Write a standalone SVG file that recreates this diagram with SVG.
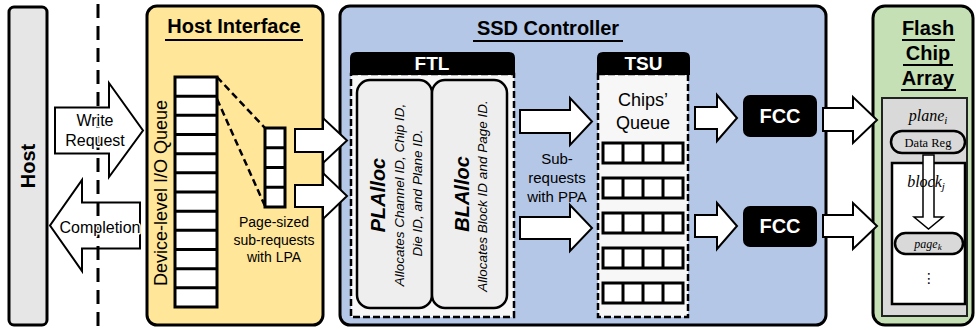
<svg xmlns="http://www.w3.org/2000/svg" width="976" height="330" viewBox="0 0 976 330">
<style>
text{font-family:"Liberation Sans",Arial,sans-serif;fill:#000}
.t{font-weight:bold;font-size:20px;text-anchor:middle}
.hd{font-weight:bold;font-size:19px;text-anchor:middle;fill:#fff}
.lbl{font-size:16px;text-anchor:middle;stroke:#fff;stroke-width:3;paint-order:stroke;stroke-linejoin:round}
.sm{font-size:14px;text-anchor:middle}
.ser{font-family:"Liberation Serif","Times New Roman",serif;text-anchor:middle}
.box{stroke:#000;stroke-width:3}
.arr{fill:#fff;stroke:#000;stroke-width:2;stroke-linejoin:miter}
.cell{fill:#fff;stroke:#000;stroke-width:3}
.dash{fill:#f7f7f7;stroke:#000;stroke-width:2.5;stroke-dasharray:7 3}
.ul{stroke:#000;stroke-width:2}
.alloc{fill:#eeeeee;stroke:#000;stroke-width:2.5}
</style>

<g id="host">
<rect x="9" y="7" width="38" height="318" rx="5" fill="#e7e6e6" class="box"/>
<text class="t" transform="translate(35,166) rotate(-90)">Host</text>
</g>

<g id="host-interface">
<rect x="147" y="6" width="176" height="319" rx="10" fill="#ffe699" class="box"/>
<text class="t" x="234" y="33">Host Interface</text>
<line class="ul" x1="165" y1="40" x2="303" y2="40"/>
</g>

<g id="io-queue">
<rect x="175" y="77" width="42" height="230" class="cell"/>
<path d="M175,96.2H217M175,115.3H217M175,134.5H217M175,153.7H217M175,172.8H217M175,192H217M175,211.2H217M175,230.3H217M175,249.5H217M175,268.7H217M175,287.8H217" stroke="#000" stroke-width="3"/>
<text style="font-size:18px;text-anchor:middle" transform="translate(167,193) rotate(-90)">Device-level I/O Queue</text>
</g>

<g id="sub-queue">
<rect x="265" y="128" width="20" height="79" class="cell"/>
<path d="M265,147.8H285M265,167.5H285M265,187.3H285" stroke="#000" stroke-width="3"/>
<text class="sm" x="274" y="227">Page-sized</text>
<text class="sm" x="274" y="245">sub-requests</text>
<text class="sm" x="274" y="262">with LPA</text>
</g>

<g id="ssd-controller">
<rect x="340" y="6" width="486" height="319" rx="10" fill="#b4c7e7" class="box"/>
<text class="t" x="548" y="35">SSD Controller</text>
<line class="ul" x1="473" y1="41" x2="623" y2="41"/>
</g>

<g id="ftl">
<rect x="351" y="74" width="163" height="243" class="dash"/>
<path d="M350,75V58Q350,52 356,52H509Q515,52 515,58V75Z" fill="#000"/>
<text class="hd" x="432" y="70">FTL</text>
</g>

<g id="plalloc">
<rect x="357" y="80" width="75" height="228" rx="13" class="alloc"/>
<text style="font-size:20px;font-weight:bold;font-style:italic;text-anchor:middle" transform="translate(385,195) rotate(-90)">PLAlloc</text>
<text style="font-size:13.5px;font-style:italic;text-anchor:middle" transform="translate(404,195) rotate(-90)">Allocates Channel ID, Chip ID,</text>
<text style="font-size:13.5px;font-style:italic;text-anchor:middle" transform="translate(422,193) rotate(-90)">Die ID, and Plane ID.</text>
</g>

<g id="blalloc">
<rect x="432" y="80" width="75" height="228" rx="13" class="alloc"/>
<text style="font-size:20px;font-weight:bold;font-style:italic;text-anchor:middle" transform="translate(469,194) rotate(-90)">BLAlloc</text>
<text style="font-size:13.5px;font-style:italic;text-anchor:middle" transform="translate(487,196) rotate(-90)">Allocates Block ID and Page ID.</text>
</g>

<g id="sub-requests-label">
<text style="font-size:15px;text-anchor:middle" x="557" y="164">Sub-</text>
<text style="font-size:15px;text-anchor:middle" x="557" y="183">requests</text>
<text style="font-size:15px;text-anchor:middle" x="557" y="202">with PPA</text>
</g>

<g id="tsu">
<rect x="598" y="74" width="90" height="243" class="dash"/>
<path d="M597,75V58Q597,52 603,52H684Q690,52 690,58V75Z" fill="#000"/>
<text class="hd" x="643.5" y="70">TSU</text>
<text style="font-size:18px;text-anchor:middle" x="643" y="106">Chips’</text>
<text style="font-size:18px;text-anchor:middle" x="643" y="129">Queue</text>
<g id="chip-queues">
<rect x="603" y="143" width="80" height="20" class="cell"/>
<rect x="603" y="178" width="80" height="20" class="cell"/>
<rect x="603" y="213" width="80" height="20" class="cell"/>
<rect x="603" y="248" width="80" height="20" class="cell"/>
<rect x="603" y="283" width="80" height="20" class="cell"/>
<path d="M623,143V163M643,143V163M663,143V163M623,178V198M643,178V198M663,178V198M623,213V233M643,213V233M663,213V233M623,248V268M643,248V268M663,248V268M623,283V303M643,283V303M663,283V303" stroke="#000" stroke-width="3"/>
</g>
</g>

<g id="fcc1">
<rect x="743" y="95" width="74" height="42" rx="7" fill="#000"/>
<text class="hd" style="font-size:20px" x="780" y="123">FCC</text>
</g>
<g id="fcc2">
<rect x="743" y="206" width="74" height="41" rx="7" fill="#000"/>
<text class="hd" style="font-size:20px" x="780" y="233">FCC</text>
</g>

<g id="flash-chip-array">
<rect x="873" y="6" width="100" height="319" rx="12" fill="#c5e0b4" class="box"/>
<text class="t" x="928" y="35">Flash</text>
<line class="ul" x1="902" y1="40" x2="955" y2="40"/>
<text class="t" x="928" y="60">Chip</text>
<line class="ul" x1="903" y1="65" x2="953" y2="65"/>
<text class="t" x="928" y="85">Array</text>
<line class="ul" x1="901" y1="90" x2="956" y2="90"/>
</g>

<g id="plane">
<rect x="882" y="98" width="85" height="218" fill="#d9d9d9" stroke="#222" stroke-width="2"/>
<text class="ser" style="font-size:16px;font-style:italic" x="928" y="121">plane<tspan style="font-size:11px" dy="3">i</tspan></text>
</g>
<g id="data-reg">
<rect x="891" y="131" width="74" height="22" rx="11" fill="#d9d9d9" stroke="#000" stroke-width="2.5"/>
<text class="ser" style="font-size:12.5px" x="928" y="146.5">Data Reg</text>
</g>
<g id="block">
<rect x="892" y="163" width="73" height="141" fill="#fff" stroke="#000" stroke-width="2.5"/>
<path d="M923,155H934V217H943L928.5,229L914,217H923Z" fill="#fff" stroke="#000" stroke-width="1.5"/>
<text class="ser" style="font-size:16px;font-style:italic" x="926" y="187">block<tspan style="font-size:11px" dy="3">j</tspan></text>
<text style="font-family:'DejaVu Sans',sans-serif;font-size:14px;text-anchor:middle" x="929" y="283">⋮</text>
</g>
<g id="page">
<rect x="895" y="233" width="68" height="21" rx="10.5" fill="#d9d9d9" stroke="#000" stroke-width="2.5"/>
<text class="ser" style="font-size:12px;font-style:italic" x="928" y="247.5">page<tspan style="font-size:9px" dy="2">k</tspan></text>
</g>

<g id="connectors">
<path class="arr" d="M55,107.5H109V83L143,130.5L109,177V153.5H55Z"/>
<path class="arr" d="M140,202.5H82V180L50,225.5L82,271V248.5H140Z"/>
<line x1="98" y1="4" x2="98" y2="330" stroke="#000" stroke-width="3" stroke-dasharray="14 8"/>
<text class="lbl" x="95" y="126">Write</text>
<text class="lbl" x="95" y="146">Request</text>
<text class="lbl" x="100" y="233">Completion</text>
<line x1="217" y1="77" x2="265" y2="128" stroke="#000" stroke-width="2.5" stroke-dasharray="7 4"/>
<line x1="217" y1="99" x2="265" y2="206" stroke="#000" stroke-width="2.5" stroke-dasharray="7 4"/>
<path class="arr" d="M295,129H323V118L347,140.5L323,163V152H295Z"/>
<path class="arr" d="M295,185H323V173L347,196L323,219V207H295Z"/>
<path class="arr" d="M520,110H570V98L592,121.5L570,145V133H520Z"/>
<path class="arr" d="M520,217H570V205L592,228L570,251V239H520Z"/>
<path class="arr" d="M695,107H717V95L737,118L717,141V129H695Z"/>
<path class="arr" d="M695,215H717V203L737,226L717,249V237H695Z"/>
<path class="arr" d="M823,108H853V97L877,120L853,143V131H823Z"/>
<path class="arr" d="M823,215H853V203L877,226L853,249V237H823Z"/>
</g>
</svg>
